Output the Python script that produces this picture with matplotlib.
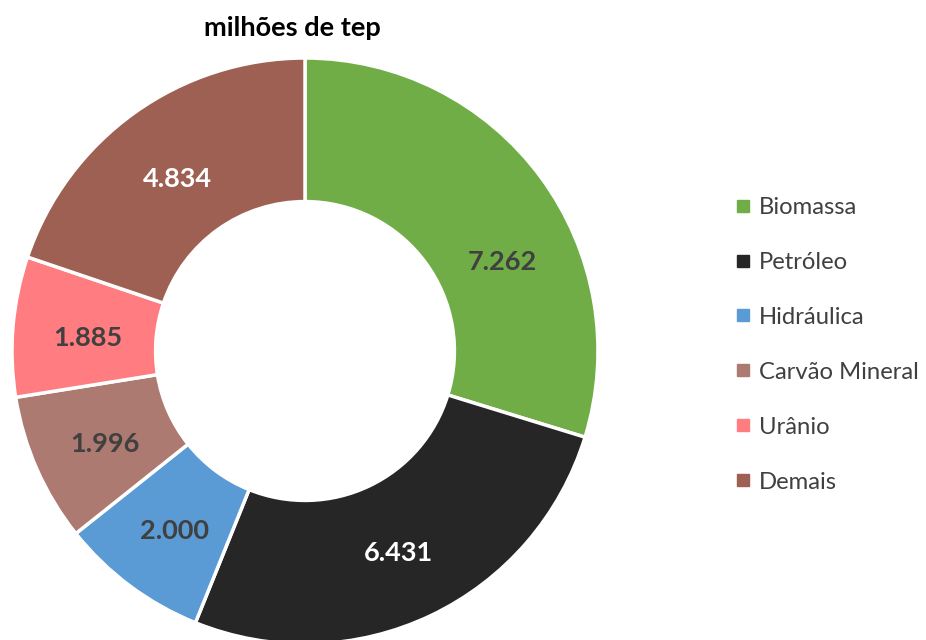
import numpy as np
import matplotlib.pyplot as plt
from matplotlib.lines import Line2D

# data
labels = ['Biomassa', 'Petróleo', 'Hidráulica', 'Carvão Mineral', 'Urânio', 'Demais']
values = [7.262, 6.431, 2.000, 1.996, 1.885, 4.834]
colors = ['#70AD47', '#262626', '#5B9BD5', '#AD7A72', '#FF7C80', '#9E6052']
text_colors = ['#404040', 'white', '#404040', '#404040', '#404040', 'white']
# label angle shift (deg) — the first label sits lower in the reference
angle_shift = [-11, 0, 0, 0, 0, 0]

plt.rcParams['font.family'] = ['Lato', 'DejaVu Sans']

fig = plt.figure(figsize=(9.26, 6.4), dpi=100)

# pie axes placed so center ~ (305, 351) px, radius ~ 293 px
W, H = 926, 640
cx, cy, r = 305, 351, 293
ax = fig.add_axes([(cx - r) / W, (H - cy - r) / H, 2 * r / W, 2 * r / H])

wedges, texts = ax.pie(values, colors=colors, startangle=90, counterclock=False,
                       radius=1.0,
                       wedgeprops=dict(width=0.49, edgecolor='white', linewidth=2.5))
ax.set_xlim(-1, 1)
ax.set_ylim(-1, 1)
ax.set_aspect('equal')
ax.axis('off')

# value labels in middle of ring
total = sum(values)
start = 90
for v, tc, da in zip(values, text_colors, angle_shift):
    ang = start - v / total * 360 / 2 + da
    start -= v / total * 360
    rr = 0.745
    x = rr * np.cos(np.radians(ang))
    y = rr * np.sin(np.radians(ang)) - 0.017
    ax.text(x, y, f'{v:.3f}', ha='center', va='center', color=tc,
            fontsize=19.5, fontweight='bold')

fig.text(292 / W, 1 - 28 / H, 'milhões de tep', ha='center', va='center',
         fontsize=19.5, fontweight='bold', color='black')

handles = [Line2D([], [], marker='s', linestyle='none', markersize=8,
                  markerfacecolor=c, markeredgecolor=c) for c in colors]
fig.legend(handles, labels, loc='upper left', bbox_to_anchor=(736 / W, 1 - 197 / H),
           frameon=False, fontsize=17.2, labelcolor='#404040',
           handlelength=0.6, handletextpad=0.35, labelspacing=1.42,
           borderaxespad=0, borderpad=0)

fig.savefig('out.png', dpi=100)
